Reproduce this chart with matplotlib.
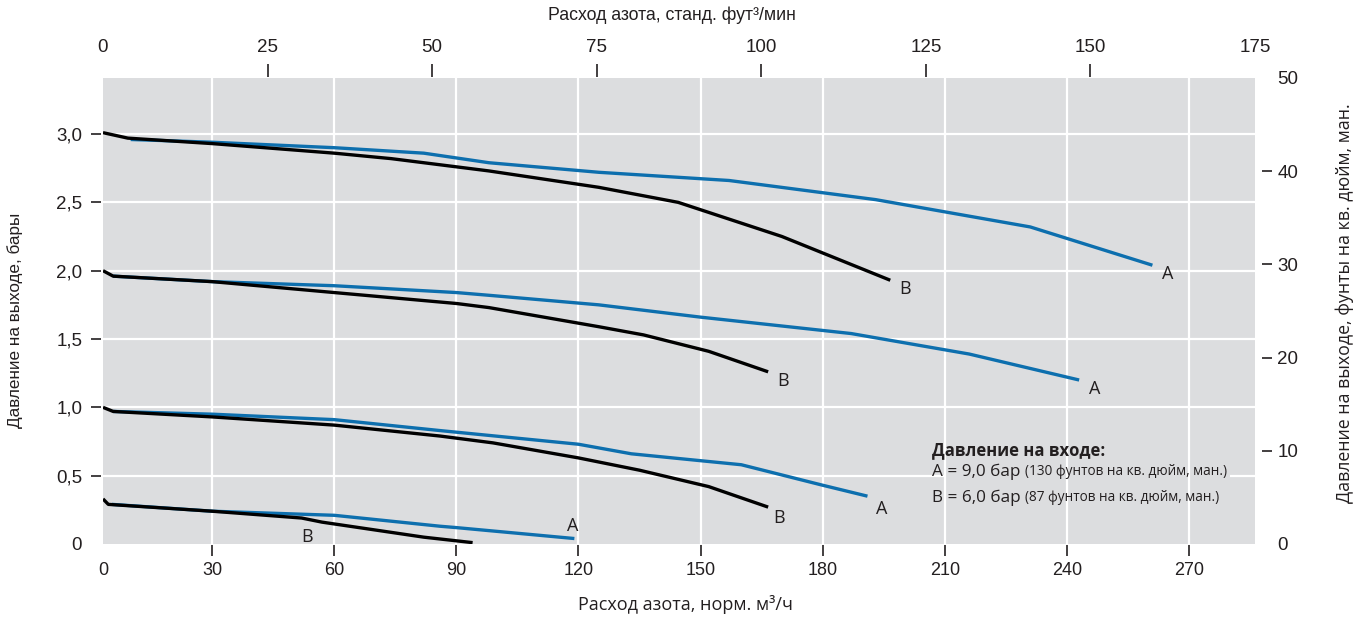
import numpy as np
import matplotlib.pyplot as plt
from matplotlib.patches import Rectangle

# расход, норм. м3/ч -> давление на выходе, бар
# A - давление на входе 9,0 бар, B - 6,0 бар
x0 = 3.2  # левый край оси (подпись "0")

a3_x = [10, 30, 60, 82, 98, 125, 157, 193, 231, 261]
a3_y = [2.96, 2.94, 2.90, 2.86, 2.79, 2.72, 2.66, 2.52, 2.32, 2.04]
b3_x = [3.2, 9.3, 30, 60, 74, 98, 125, 144.5, 170, 196.6]
b3_y = [3.01, 2.97, 2.93, 2.86, 2.82, 2.73, 2.61, 2.50, 2.25, 1.93]

a2_x = [5.7, 30, 60, 90, 98, 125, 150, 187, 216, 243]
a2_y = [1.96, 1.92, 1.89, 1.84, 1.82, 1.75, 1.66, 1.54, 1.39, 1.20]
b2_x = [3.2, 5.7, 30, 60, 90, 98, 125, 136, 152, 166.6]
b2_y = [2.00, 1.96, 1.92, 1.84, 1.76, 1.73, 1.59, 1.53, 1.41, 1.26]

a1_x = [5.7, 30, 60, 86, 120, 133, 160, 180, 191]
a1_y = [0.97, 0.95, 0.91, 0.83, 0.73, 0.66, 0.58, 0.43, 0.35]
b1_x = [3.2, 5.7, 30, 60, 86, 99, 120, 135, 152, 166.6]
b1_y = [1.00, 0.97, 0.93, 0.87, 0.79, 0.74, 0.63, 0.54, 0.42, 0.27]

a0_x = [5.4, 30, 60, 86, 90, 119]
a0_y = [0.29, 0.24, 0.21, 0.13, 0.12, 0.04]
b0_x = [3.2, 4.5, 30, 52, 57, 82, 94]
b0_y = [0.33, 0.29, 0.24, 0.19, 0.16, 0.05, 0.01]

flow_ticks = [30, 60, 90, 120, 150, 180, 210, 240, 270]
scfm_ticks = [0, 25, 50, 75, 100, 125, 150, 175]
bar_ticks = [0, 0.5, 1.0, 1.5, 2.0, 2.5, 3.0]
bar_labels = ['0', '0,5', '1,0', '1,5', '2,0', '2,5', '3,0']
psi_ticks = [0, 10, 20, 30, 40, 50]

BLUE = '#0d6fae'
BG = '#dcdddf'
INK = '#231f20'
W, H = 1355, 618

fig = plt.figure(figsize=(W / 100, H / 100), dpi=100)
ax = fig.add_axes([103 / W, 1 - 544 / H, 1152 / W, 466 / H])
ax.set_facecolor(BG)
ax.set_xlim(x0, 286.2)
ax.set_ylim(0, 3.41)

# сетка
for v in bar_ticks[1:]:
    ax.axhline(v, color='white', lw=1.6, zorder=1)
ax.add_patch(Rectangle((210, 0.45), 70, 0.1, facecolor=BG, edgecolor='none', zorder=1.2))
for v in flow_ticks:
    ax.axvline(v, color='white', lw=1.6, zorder=1.5)

lw = 2.4
curves = [(a3_x, a3_y, BLUE), (b3_x, b3_y, 'black'),
          (a2_x, a2_y, BLUE), (b2_x, b2_y, 'black'),
          (a1_x, a1_y, BLUE), (b1_x, b1_y, 'black'),
          (a0_x, a0_y, BLUE), (b0_x, b0_y, 'black')]
for cx, cy, c in curves:
    ax.plot(cx, cy, color=c, lw=lw, solid_capstyle='butt', zorder=3)

lab = dict(fontfamily='Open Sans', fontsize=13, color=INK, ha='center', va='center',
           textcoords='offset points')
for cx, cy, t in [(a3_x, a3_y, 'A'), (a2_x, a2_y, 'A'), (b3_x, b3_y, 'B'), (b2_x, b2_y, 'B')]:
    ax.annotate(t, (cx[-1], cy[-1]), xytext=(11, -6.5), **lab)
ax.annotate('A', (a1_x[-1], a1_y[-1]), xytext=(10, -9), **lab)
ax.annotate('B', (b1_x[-1], b1_y[-1]), xytext=(8, -8), **lab)
ax.annotate('A', (a0_x[-1], a0_y[-1]), xytext=(-1, 9), **lab)
ax.annotate('B', (b0_x[-1], b0_y[-1]), xytext=(-119, 4), **lab)

# подпись с давлением на входе
ax.text(206.9, 0.69, 'Давление на входе:', fontfamily='Open Sans', fontweight='bold',
        fontsize=12, color=INK, va='center', ha='left', zorder=4)
for yy, big, small in [(0.53, 'A = 9,0 бар', '(130 фунтов на кв. дюйм, ман.)'),
                       (0.34, 'B = 6,0 бар', '(87 фунтов на кв. дюйм, ман.)')]:
    t1 = ax.text(206.9, yy, big, fontfamily='Open Sans', fontsize=12.3, color=INK,
                 va='center', ha='left', zorder=4)
    ax.annotate(small, xy=(1, 0), xycoords=t1, xytext=(3, 0.3), textcoords='offset points',
                fontfamily='Open Sans', fontsize=9.8, color=INK, va='bottom', ha='left')

bottom_font = dict(fontfamily='Liberation Sans', fontsize=13, color=INK)
side_font = dict(fontfamily='Liberation Sans', fontsize=13.5, color=INK)

# twin axes first, spine offsets before ticks (set_position resets ticks)
ax_top = ax.twiny()
ax_r = ax.twinx()
for a in (ax, ax_top, ax_r):
    for s in a.spines.values():
        s.set_visible(False)
ax.spines['left'].set_position(('outward', 1.5))
ax.spines['bottom'].set_position(('outward', 1))
ax_top.spines['top'].set_position(('outward', 1))
ax_r.spines['right'].set_position(('outward', 5))

ax.set_xticks([x0] + flow_ticks, ['0'] + [str(v) for v in flow_ticks], **bottom_font)
ax.set_yticks(bar_ticks, bar_labels, **side_font)
ax.tick_params(axis='x', length=8, width=1.2, pad=4, color=INK)
ax.tick_params(axis='y', length=7.5, width=1.2, pad=6, color=INK)
ax.xaxis.get_major_ticks()[0].tick1line.set_visible(False)
ax.yaxis.get_major_ticks()[0].tick1line.set_visible(False)

# верхняя ось: станд. фут3/мин
ax_top.set_xlim(0, 175)
ax_top.set_xticks(scfm_ticks, [str(v) for v in scfm_ticks], **side_font)
ax_top.tick_params(axis='x', length=9.5, width=1.2, pad=5, color=INK)
top_ticks = ax_top.xaxis.get_major_ticks()
top_ticks[0].tick2line.set_visible(False)
top_ticks[-1].tick2line.set_visible(False)

# правая ось: фунты на кв. дюйм
ax_r.set_ylim(0, 50)
ax_r.set_yticks(psi_ticks, [str(v) for v in psi_ticks], **side_font)
ax_r.tick_params(axis='y', length=7, width=1.2, pad=4, color=INK)
r_ticks = ax_r.yaxis.get_major_ticks()
r_ticks[0].tick2line.set_visible(False)
r_ticks[-1].tick2line.set_visible(False)

fig.text(672 / W, 1 - 15 / H, 'Расход азота, станд. фут³/мин', fontfamily='Liberation Sans',
         fontsize=12.8, color=INK, ha='center', va='center')
fig.text(685 / W, 1 - 605 / H, 'Расход азота, норм. м³/ч', fontfamily='Open Sans',
         fontsize=13, color=INK, ha='center', va='center')
fig.text(15 / W, 1 - 320 / H, 'Давление на выходе, бары', fontfamily='Liberation Sans',
         fontsize=12.3, color=INK, ha='center', va='center', rotation=90)
fig.text(1345 / W, 1 - 303 / H, 'Давление на выходе, фунты на кв. дюйм, ман.',
         fontfamily='Open Sans', fontsize=12.8, color=INK, ha='center', va='center', rotation=90)

fig.savefig('out.png', dpi=100)
